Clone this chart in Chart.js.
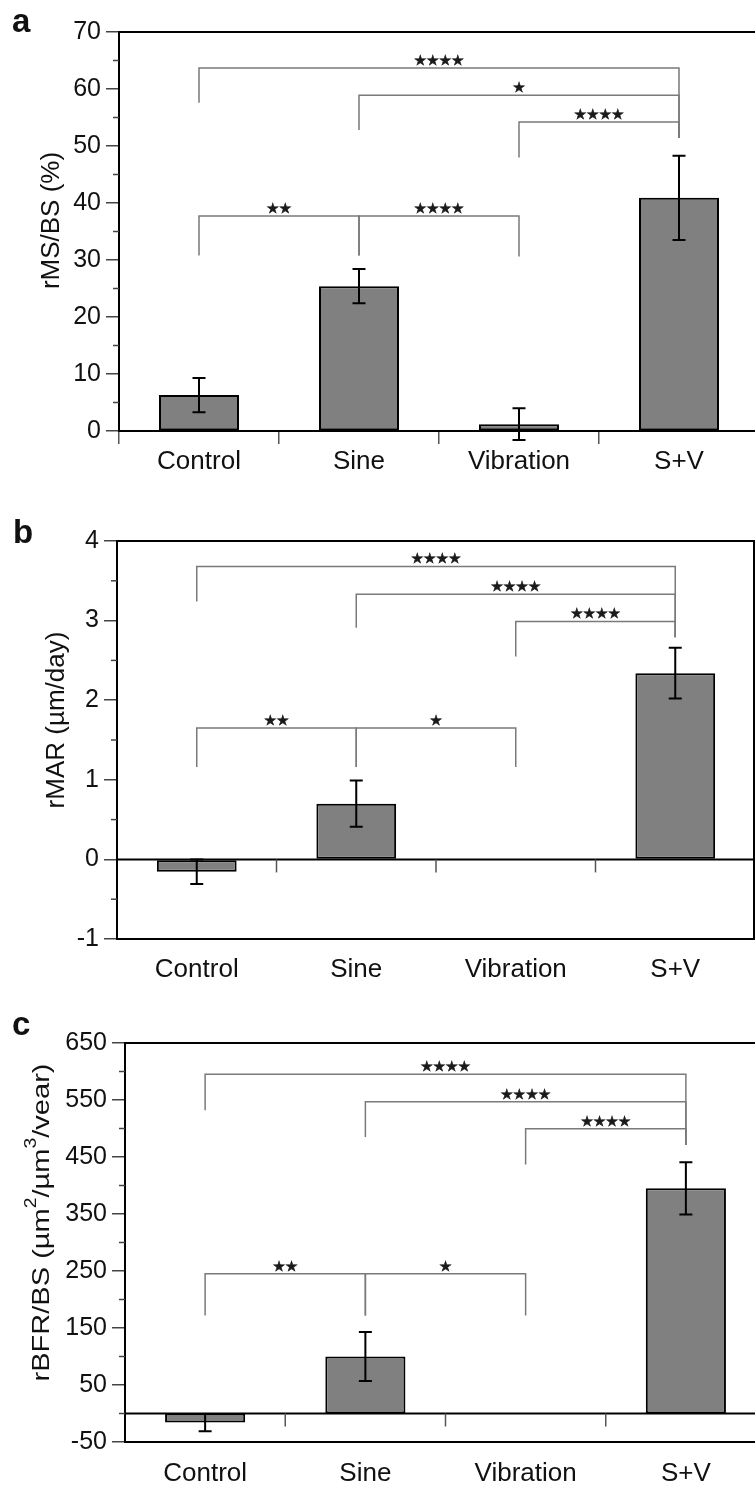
<!DOCTYPE html>
<html><head><meta charset="utf-8">
<script src="https://cdn.jsdelivr.net/npm/chart.js@4.4.0/dist/chart.umd.min.js"></script>
<style>
html,body{margin:0;padding:0;width:755px;height:1485px;overflow:hidden;background:#fff;}
canvas{position:absolute;left:0;}
</style></head><body>
<canvas id="ca" width="760" height="480" style="top:0px;width:760px;height:480px"></canvas>
<canvas id="cb" width="756" height="490" style="top:490px;width:756px;height:490px"></canvas>
<canvas id="cc" width="766" height="505" style="top:980px;width:766px;height:505px"></canvas>
<script>
// ---------- data ----------
const categories = ['Control', 'Sine', 'Vibration', 'S+V'];

// panel a : rMS/BS (%)
const msValues = [6.3, 25.4, 1.2, 40.9];
const msErrors = [3.0, 3.0, 2.8, 7.4];
const msTicks = [0, 10, 20, 30, 40, 50, 60, 70];
const msMinor = [5, 15, 25, 35, 45, 55, 65];
// brackets: [from index, to index, bar height, left leg end, right leg end, label]
const msBrackets = [
  [0, 3, 63.7, 57.6, 51.4, '★★★★'],
  [1, 3, 58.9, 52.8, 51.4, '★'],
  [2, 3, 54.2, 48.0, 51.4, '★★★★'],
  [0, 1, 37.7, 30.8, 30.8, '★★'],
  [1, 2, 37.7, 30.8, 30.6, '★★★★']
];

// panel b : rMAR (µm/day)
const marValues = [-0.155, 0.70, null, 2.34];
const marErrors = [0.155, 0.29, null, 0.32];
const marTicks = [-1, 0, 1, 2, 3, 4];
const marMinor = [-0.5, 0.5, 1.5, 2.5, 3.5];
const marBrackets = [
  [0, 3, 3.68, 3.24, 2.79, '★★★★'],
  [1, 3, 3.33, 2.91, 2.79, '★★★★'],
  [2, 3, 2.99, 2.55, 2.79, '★★★★'],
  [0, 1, 1.65, 1.16, 1.16, '★★'],
  [1, 2, 1.65, 1.16, 1.16, '★']
];

// panel c : rBFR/BS
const bfrValues = [-16, 100, null, 395];
const bfrErrors = [15, 43, null, 46];
const bfrTicks = [-50, 50, 150, 250, 350, 450, 550, 650];
const bfrMinor = [0, 100, 200, 300, 400, 500, 600];
const bfrBrackets = [
  [0, 3, 595, 532, 471, '★★★★'],
  [1, 3, 547, 485, 471, '★★★★'],
  [2, 3, 499.5, 437, 471, '★★★★'],
  [0, 1, 245, 172, 172, '★★'],
  [1, 2, 245, 172, 172, '★']
];

// ---------- drawing ----------
const FONT = '"Liberation Sans", Arial, Helvetica, sans-serif';

const panelPlugin = {
  id: 'panel',
  afterDatasetsDraw(chart, args, o) {
    const ctx = chart.ctx, ca = chart.chartArea;
    const xs = chart.scales.x, ys = chart.scales.y;
    ctx.save();
    // minor ticks
    ctx.strokeStyle = '#444'; ctx.lineWidth = 1.5;
    o.minor.forEach(v => {
      const y = ys.getPixelForValue(v);
      ctx.beginPath(); ctx.moveTo(ca.left - 6, y); ctx.lineTo(ca.left, y); ctx.stroke();
    });
    // zero line + category boundary ticks under it
    if (o.zeroLine) {
      const y0 = ys.getPixelForValue(0);
      ctx.strokeStyle = '#000'; ctx.lineWidth = 2;
      ctx.beginPath(); ctx.moveTo(ca.left, y0); ctx.lineTo(ca.right, y0); ctx.stroke();
      ctx.strokeStyle = '#555'; ctx.lineWidth = 1.5;
      for (let i = 1; i < categories.length; i++) {
        const x = (xs.getPixelForValue(i - 1) + xs.getPixelForValue(i)) / 2;
        ctx.beginPath(); ctx.moveTo(x, y0); ctx.lineTo(x, y0 + 13); ctx.stroke();
      }
    }
    // top border / right border
    ctx.strokeStyle = '#000'; ctx.lineWidth = 2;
    ctx.beginPath(); ctx.moveTo(ca.left - 1, ca.top); ctx.lineTo(ca.right, ca.top); ctx.stroke();
    if (o.rightBorder) {
      ctx.beginPath(); ctx.moveTo(ca.right - 1, ca.top); ctx.lineTo(ca.right - 1, ca.bottom); ctx.stroke();
    }
    // error bars
    const meta = chart.getDatasetMeta(0);
    ctx.strokeStyle = '#000'; ctx.lineWidth = 2;
    o.values.forEach((v, i) => {
      if (v === null || o.errors[i] === null) return;
      const x = meta.data[i].x;
      const yt = ys.getPixelForValue(v + o.errors[i]);
      const yb = ys.getPixelForValue(v - o.errors[i]);
      ctx.beginPath();
      ctx.moveTo(x, yt); ctx.lineTo(x, yb);
      ctx.moveTo(x - 6.5, yt); ctx.lineTo(x + 6.5, yt);
      ctx.moveTo(x - 6.5, yb); ctx.lineTo(x + 6.5, yb);
      ctx.stroke();
    });
    // significance brackets
    ctx.lineWidth = 1.5;
    ctx.font = '14px "DejaVu Sans", sans-serif';
    ctx.textAlign = 'center'; ctx.textBaseline = 'alphabetic';
    o.brackets.forEach(b => {
      const xa = xs.getPixelForValue(b[0]), xb = xs.getPixelForValue(b[1]);
      const y = ys.getPixelForValue(b[2]);
      ctx.strokeStyle = '#7a7a7a'; ctx.lineWidth = 1.5;
      ctx.beginPath();
      ctx.moveTo(xa, ys.getPixelForValue(b[3]));
      ctx.lineTo(xa, y); ctx.lineTo(xb, y);
      ctx.lineTo(xb, ys.getPixelForValue(b[4]));
      ctx.stroke();
      ctx.fillStyle = '#1a1a1a'; ctx.strokeStyle = '#1a1a1a'; ctx.lineWidth = 0.6;
      ctx.fillText(b[5], (xa + xb) / 2, y - 3);
      ctx.strokeText(b[5], (xa + xb) / 2, y - 3);
    });
    // y axis title (rotated, with superscripts)
    const segs = o.title, fs = o.titleSize;
    let total = 0;
    segs.forEach(s => {
      ctx.font = (s[1] ? Math.round(fs * 0.65) : fs) + 'px ' + FONT;
      s.w = ctx.measureText(s[0]).width; total += s.w;
    });
    ctx.save();
    ctx.translate(o.titleX, (ca.top + ca.bottom) / 2 + (o.titleDY || 0));
    ctx.rotate(-Math.PI / 2);
    ctx.scale(o.titleStretch || 1, 1);
    ctx.fillStyle = '#111'; ctx.textAlign = 'left'; ctx.textBaseline = 'middle';
    let cx = -total / 2;
    segs.forEach(s => {
      ctx.font = (s[1] ? Math.round(fs * 0.65) : fs) + 'px ' + FONT;
      ctx.fillText(s[0], cx, s[1] ? -fs * 0.42 : 0);
      cx += s.w;
    });
    ctx.restore();
    // panel letter
    ctx.fillStyle = '#111'; ctx.textAlign = 'left'; ctx.textBaseline = 'alphabetic';
    ctx.font = 'bold 33px ' + FONT;
    ctx.fillText(o.letter, o.letterX, o.letterY);
    ctx.restore();
  }
};

function makePanel(p) {
  return new Chart(document.getElementById(p.id), {
    type: 'bar',
    data: {
      labels: categories,
      datasets: [{
        data: p.values,
        backgroundColor: '#808080',
        borderColor: '#000',
        borderWidth: 2,
        borderSkipped: false,
        barPercentage: 0.5,
        categoryPercentage: 1.0
      }]
    },
    options: {
      responsive: false,
      animation: false,
      devicePixelRatio: 1,
      layout: { padding: { top: p.top, right: p.right, left: 0, bottom: 0 } },
      plugins: {
        legend: { display: false },
        tooltip: { enabled: false },
        panel: {
          values: p.values, errors: p.errors, minor: p.minor, brackets: p.brackets,
          zeroLine: p.zeroLine, rightBorder: p.rightBorder,
          title: p.title, titleSize: p.titleSize, titleX: p.titleX, titleStretch: p.titleStretch, titleDY: p.titleDY,
          letter: p.letter, letterX: p.letterX, letterY: p.letterY
        }
      },
      scales: {
        x: {
          type: 'category',
          offset: true,
          grid: p.zeroLine
            ? { display: false, drawTicks: false }
            : { offset: true, drawOnChartArea: false, drawTicks: true, tickLength: 13, color: '#555', lineWidth: 1.5 },
          border: { display: true, color: '#000', width: 2 },
          ticks: { font: { size: 26, family: FONT, lineHeight: 1 }, color: '#111', padding: p.xPad, maxRotation: 0, autoSkip: false },
          afterFit(s) { s.height = p.xHeight; }
        },
        y: {
          min: p.min, max: p.max,
          afterBuildTicks(s) { s.ticks = p.ticks.map(v => ({ value: v })); },
          grid: { drawOnChartArea: false, drawTicks: true, tickLength: 13, color: '#444', lineWidth: 1.5 },
          border: { display: true, color: '#000', width: 2 },
          ticks: { font: { size: 25, family: FONT }, color: '#111', padding: 5, callback: v => String(v) },
          afterFit(s) { s.width = p.yWidth; }
        }
      }
    },
    plugins: [panelPlugin]
  });
}

makePanel({
  id: 'ca', values: msValues, errors: msErrors, ticks: msTicks, minor: msMinor, brackets: msBrackets,
  min: 0, max: 70, top: 32, right: 1, yWidth: 119, xHeight: 49, xPad: 5, zeroLine: false, rightBorder: false,
  title: [['rMS/BS (%)', false]], titleSize: 26, titleX: 52, titleDY: -11,
  letter: 'a', letterX: 12, letterY: 32
});
makePanel({
  id: 'cb', values: marValues, errors: marErrors, ticks: marTicks, minor: marMinor, brackets: marBrackets,
  min: -1, max: 4, top: 51, right: 1, yWidth: 117, xHeight: 41, xPad: 18, zeroLine: true, rightBorder: true,
  title: [['rMAR (µm/day)', false]], titleSize: 26, titleX: 57, titleDY: -20,
  letter: 'b', letterX: 13, letterY: 53
});
makePanel({
  id: 'cc', values: bfrValues, errors: bfrErrors, ticks: bfrTicks, minor: bfrMinor, brackets: bfrBrackets,
  min: -50, max: 650, top: 63, right: 0, yWidth: 125, xHeight: 43, xPad: 19, zeroLine: true, rightBorder: false,
  title: [['rBFR/BS (µm', false], ['2', true], ['/µm', false], ['3', true], ['/vear)', false]],
  titleSize: 24, titleX: 42, titleStretch: 1.21, titleDY: -20,
  letter: 'c', letterX: 12, letterY: 55
});
</script>
</body></html>
